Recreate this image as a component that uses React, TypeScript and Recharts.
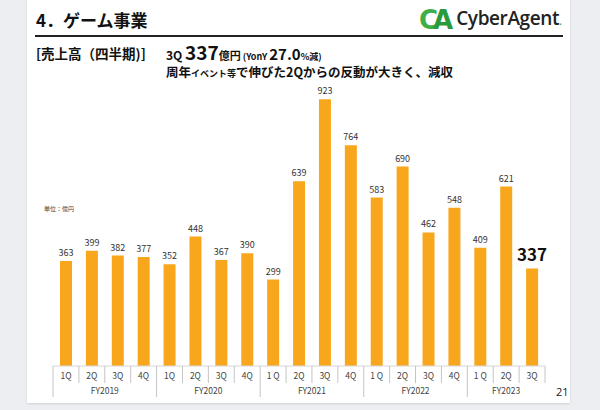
import React from 'react';
import { BarChart, Bar, XAxis, YAxis, LabelList } from 'recharts';

const quarters = ['1Q', '2Q', '3Q', '4Q', '1Q', '2Q', '3Q', '4Q', '1 Q', '2Q', '3Q', '4Q', '1 Q', '2Q', '3Q', '4Q', '1 Q', '2Q', '3Q'];
const fiscalYears = [
  'FY2019', 'FY2019', 'FY2019', 'FY2019',
  'FY2020', 'FY2020', 'FY2020', 'FY2020',
  'FY2021', 'FY2021', 'FY2021', 'FY2021',
  'FY2022', 'FY2022', 'FY2022', 'FY2022',
  'FY2023', 'FY2023', 'FY2023',
];
const sales = [363, 399, 382, 377, 352, 448, 367, 390, 299, 639, 923, 764, 583, 690, 462, 548, 409, 621, 337];

const data = quarters.map((q, i) => ({ id: `${fiscalYears[i]}-${i}`, q, fy: fiscalYears[i], sales: sales[i] }));

const W = 600;
const H = 410;
const M = { top: 77, right: 55, bottom: 0, left: 53 };
const AXIS_H = 44;
const AXIS_Y = H - AXIS_H;
const BW = (W - M.left - M.right) / data.length;
const FONT = '"Noto Sans CJK JP", "Noto Sans", sans-serif';

const QuarterTick = (props: any) => {
  const { x, payload } = props;
  const i: number = payload?.index ?? props.index ?? 0;
  const left = x - BW / 2;
  const isYearStart = i === 0 || fiscalYears[i] !== fiscalYears[i - 1];
  const count = fiscalYears.filter((f) => f === fiscalYears[i]).length;
  const last = i === data.length - 1;
  return (
    <g>
      <line x1={left} x2={left} y1={AXIS_Y} y2={isYearStart ? AXIS_Y + 31 : AXIS_Y + 17} stroke="#c4c4c4" strokeWidth={1} />
      {last && <line x1={x + BW / 2} x2={x + BW / 2} y1={AXIS_Y} y2={AXIS_Y + 17} stroke="#c4c4c4" strokeWidth={1} />}
      <text x={x} y={AXIS_Y + 13} textAnchor="middle" fontSize={8.5} fill="#444" fontFamily={FONT}>
        {quarters[i]}
      </text>
      {isYearStart && (
        <text x={left + (count * BW) / 2} y={AXIS_Y + 28} textAnchor="middle" fontSize={8.5} fill="#444" fontFamily={FONT}>
          {fiscalYears[i]}
        </text>
      )}
    </g>
  );
};

const ValueLabel = (props: any) => {
  const { x, y, width, value, index } = props;
  const last = index === data.length - 1;
  return (
    <text
      x={Number(x) + Number(width) / 2}
      y={Number(y) - (last ? 8 : 5)}
      textAnchor="middle"
      fontSize={last ? 17 : 9}
      fontWeight={last ? 700 : 400}
      fill={last ? '#111' : '#333'}
      fontFamily={FONT}
    >
      {value}
    </text>
  );
};

export default function App() {
  const abs = (s: React.CSSProperties): React.CSSProperties => ({ position: 'absolute', whiteSpace: 'nowrap', fontFamily: FONT, ...s });
  return (
    <div style={{ position: 'fixed', left: 0, top: 0, width: W, height: H, background: '#eceef1', overflow: 'hidden' }}>
      <div style={{ position: 'absolute', left: 27, top: 0, width: 543, height: 403, background: '#fff', boxShadow: '0 1px 2px rgba(0,0,0,0.12)' }} />
      <div style={abs({ left: 36, top: 7, fontSize: 17, fontWeight: 700, color: '#111', lineHeight: '26px' })}>4．ゲーム事業</div>
      <div style={{ position: 'absolute', left: 35, top: 35, width: 528, height: 2, background: '#222' }} />
      <div style={abs({ left: 419, top: 5, lineHeight: '26px', display: 'flex', alignItems: 'center' })}>
        <span style={{ fontSize: 26, fontWeight: 900, color: '#3dae49', letterSpacing: -5, fontFamily: '"DejaVu Sans", sans-serif' }}>
          C<span style={{ color: '#2a9a3d' }}>A</span>
        </span>
        <span style={{ fontSize: 19, fontWeight: 600, color: '#222', marginLeft: 8, letterSpacing: -0.4, fontFamily: '"Open Sans", sans-serif' }}>
          CyberAgent<span style={{ color: '#3dae49', fontSize: 11 }}>.</span>
        </span>
      </div>
      <div style={abs({ left: 36, top: 43, fontSize: 13.5, fontWeight: 700, color: '#111', lineHeight: '20px' })}>[売上高（四半期)]</div>
      <div style={abs({ left: 166, top: 42, fontWeight: 700, color: '#111', lineHeight: '20px', height: 20 })}>
        <span style={{ fontSize: 12 }}>3Q </span>
        <span style={{ fontSize: 19 }}>337</span>
        <span style={{ fontSize: 11 }}>億円</span>
        <span style={{ fontSize: 9 }}> (YonY </span>
        <span style={{ fontSize: 15 }}>27.0</span>
        <span style={{ fontSize: 9 }}>%減)</span>
      </div>
      <div style={abs({ left: 166, top: 64, fontWeight: 700, color: '#111', lineHeight: '16px', fontSize: 12.5 })}>
        周年<span style={{ fontSize: 9 }}>イベント等</span>で伸びた2Qからの反動が大きく、減収
      </div>
      <div style={abs({ left: 44, top: 204, fontSize: 6, color: '#444', lineHeight: '10px' })}>単位：億円</div>
      <div style={abs({ left: 556, top: 385, fontSize: 11, color: '#222', lineHeight: '14px', fontFamily: '"Open Sans", sans-serif' })}>21</div>
      <div style={{ position: 'absolute', left: 0, top: 0 }}>
        <BarChart width={W} height={H} data={data} margin={M}>
          <XAxis
            dataKey="id"
            height={AXIS_H}
            interval={0}
            tickLine={false}
            axisLine={{ stroke: '#d6d6d6' }}
            tick={<QuarterTick />}
          />
          <YAxis hide width={0} domain={[0, 1000]} />
          <Bar dataKey="sales" fill="#f8a71c" barSize={12} isAnimationActive={false}>
            <LabelList dataKey="sales" content={<ValueLabel />} />
          </Bar>
        </BarChart>
      </div>
    </div>
  );
}
